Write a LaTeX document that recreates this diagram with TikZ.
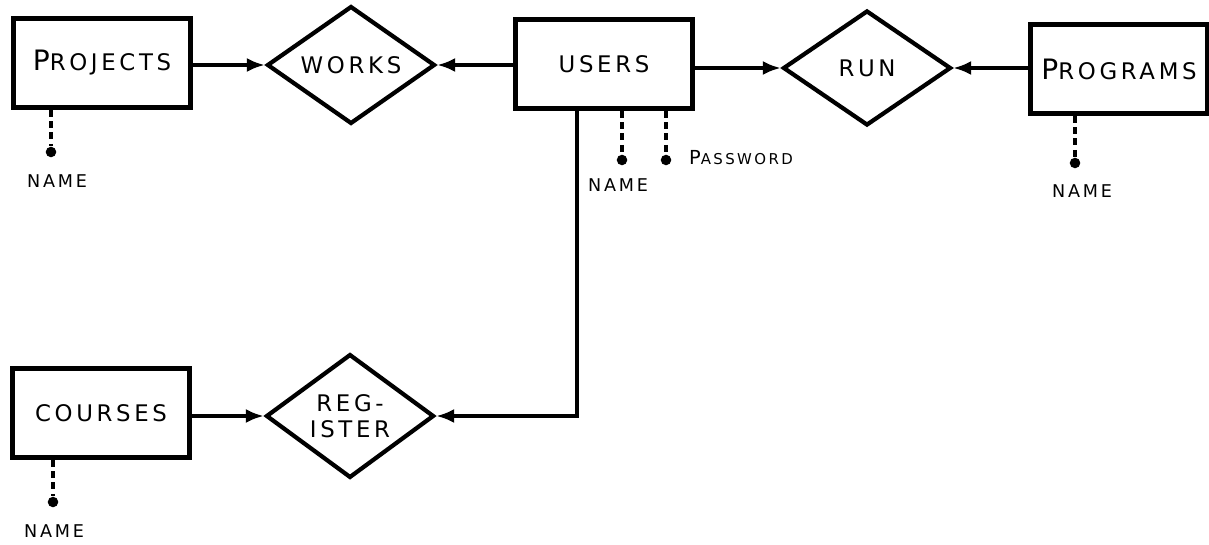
\documentclass[tikz,border=0pt]{standalone}
\usepackage{fontspec}
\usepackage{tikz}
\usetikzlibrary{arrows.meta, positioning, shapes.geometric}
\newfontfamily\hand{DejaVu Sans}[LetterSpace=16]
\newcommand{\biginit}[1]{{\fontsize{16pt}{16pt}\selectfont #1}}

\begin{document}
\begin{tikzpicture}[
  x=0.02cm, y=-0.02cm,
  font=\hand\fontsize{13pt}{15pt}\selectfont,
  entity/.style={rectangle, draw=black, line width=2.4pt, minimum width=3.54cm,
                 minimum height=1.78cm, align=center, inner sep=2pt},
  rel/.style={diamond, draw=black, line width=2.4pt, minimum width=3.36cm,
              minimum height=2.3cm, align=center, inner sep=0pt},
  arr/.style={-{Latex[length=3.6mm, width=2.8mm]}, line width=2.4pt},
  attr/.style={line width=2.2pt, dash pattern=on 4pt off 2.5pt},
  attrdot/.style={circle, fill=black, inner sep=0pt, minimum size=6pt},
  attrlbl/.style={font=\hand\fontsize{10pt}{11pt}\selectfont},
]
\useasboundingbox (0,0) rectangle (1209,544);

% --- Entidades ---
\node[entity] (projects) at (102,63)  {\biginit{P}ROJECTS};
\node[entity] (users)    at (604,64)  {USERS};
\node[entity] (programs) at (1119,69) {\biginit{P}ROGRAMS};
\node[entity] (courses)  at (101,413) {COURSES};

% --- Relaciones ---
\node[rel] (works)    at (351,65)  {WORKS};
\node[rel] (run)      at (867,68)  {RUN};
\node[rel] (register) at (350,416) {REG-\\ISTER};

% --- Conexiones ---
\draw[arr] (projects.east |- works.west) -- (works.west);
\draw[arr] (users.west |- works.east) -- (works.east);
\draw[arr] (users.east |- run.west) -- (run.west);
\draw[arr] (programs.west |- run.east) -- (run.east);
\draw[arr] (courses.east |- register.west) -- (register.west);
\draw[arr] ([xshift=-0.54cm]users.south) |- (register.east);

% --- Atributos ---
\node[attrdot] (projname) at (51,152) {};
\node[attrlbl] (projnamelbl) at (57,181) {NAME};
\draw[attr] (projname |- projects.south) -- (projname);

\node[attrdot] (usrname) at (622,160) {};
\node[attrlbl] (usrnamelbl) at (618,185) {NAME};
\draw[attr] (usrname |- users.south) -- (usrname);

\node[attrdot] (usrpass) at (666,160) {};
\node[attrlbl, anchor=west] (usrpasslbl) at (683,158)
  {{\fontsize{11pt}{11pt}\selectfont P}{\fontsize{8.5pt}{10pt}\selectfont ASSWORD}};
\draw[attr] (usrpass |- users.south) -- (usrpass);

\node[attrdot] (progname) at (1075,163) {};
\node[attrlbl] (prognamelbl) at (1082,191) {NAME};
\draw[attr] (progname |- programs.south) -- (progname);

\node[attrdot] (coursname) at (53,502) {};
\node[attrlbl] (coursnamelbl) at (54,531) {NAME};
\draw[attr] (coursname |- courses.south) -- (coursname);

\end{tikzpicture}
\end{document}
